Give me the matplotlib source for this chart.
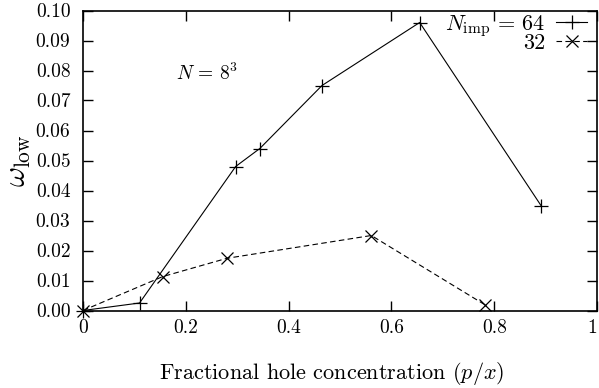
import matplotlib
matplotlib.use("Agg")
import matplotlib.pyplot as plt

plt.rcParams['font.family'] = 'serif'
plt.rcParams['font.serif'] = ['cmr10', 'DejaVu Serif']
plt.rcParams['mathtext.fontset'] = 'cm'
plt.rcParams['axes.unicode_minus'] = False
plt.rcParams['axes.formatter.use_mathtext'] = True

# data
x64 = [0.0, 0.11, 0.297, 0.344, 0.465, 0.655, 0.891]
y64 = [0.0, 0.0025, 0.048, 0.054, 0.075, 0.096, 0.035]
x32 = [0.0, 0.155, 0.28, 0.561, 0.782]
y32 = [0.0, 0.0113, 0.0174, 0.025, 0.0019]

xticks = [0, 0.2, 0.4, 0.6, 0.8, 1]
xticklabels = ['0', '0.2', '0.4', '0.6', '0.8', '1']
yticks = [i / 100 for i in range(11)]
yticklabels = ['%.2f' % v for v in yticks]

fig = plt.figure(figsize=(5.99, 3.88), dpi=100)
ax = fig.add_axes([83 / 599, 1 - 310.5 / 388, 514 / 599, 300 / 388])

ax.plot(x64, y64, color='black', lw=0.8, marker='+', ms=10, mew=0.9,
        clip_on=False, label=r'$N_{\rm imp}\,=\,64$')
ax.plot(x32, y32, color='black', lw=0.8, ls=(0, (5, 3)), marker='x', ms=8,
        mew=0.9, clip_on=False, label='32')

ax.set_xlim(0, 1)
ax.set_ylim(0, 0.1)
ax.set_xticks(xticks)
ax.set_xticklabels(xticklabels)
ax.set_yticks(yticks)
ax.set_yticklabels(yticklabels)
ax.tick_params(direction='in', length=7, width=1, labelsize=14,
               top=True, right=True)
ax.tick_params(axis='y', pad=9)
ax.tick_params(axis='x', pad=6)
ax.get_xticklabels()[-1].set_ha('right')
for s in ax.spines.values():
    s.set_linewidth(1.2)

ax.set_xlabel(r'Fractional hole concentration $(p/x)$', fontsize=16)
ax.xaxis.set_label_coords(0.484, -0.165)
ax.set_ylabel(r'$\omega_{\rm low}$', fontsize=22)
ax.yaxis.set_label_coords(-0.098, 0.5)

ax.text(0.18, 0.0768, r'$N\,=\,8^3$', fontsize=14, va='baseline')

ax.legend(loc='upper right', markerfirst=False, frameon=False, fontsize=16,
          handlelength=1.4, handletextpad=0.5, labelspacing=-0.25,
          borderaxespad=0, borderpad=0, bbox_to_anchor=(0.981, 0.992))

fig.savefig('out.png', dpi=100)
